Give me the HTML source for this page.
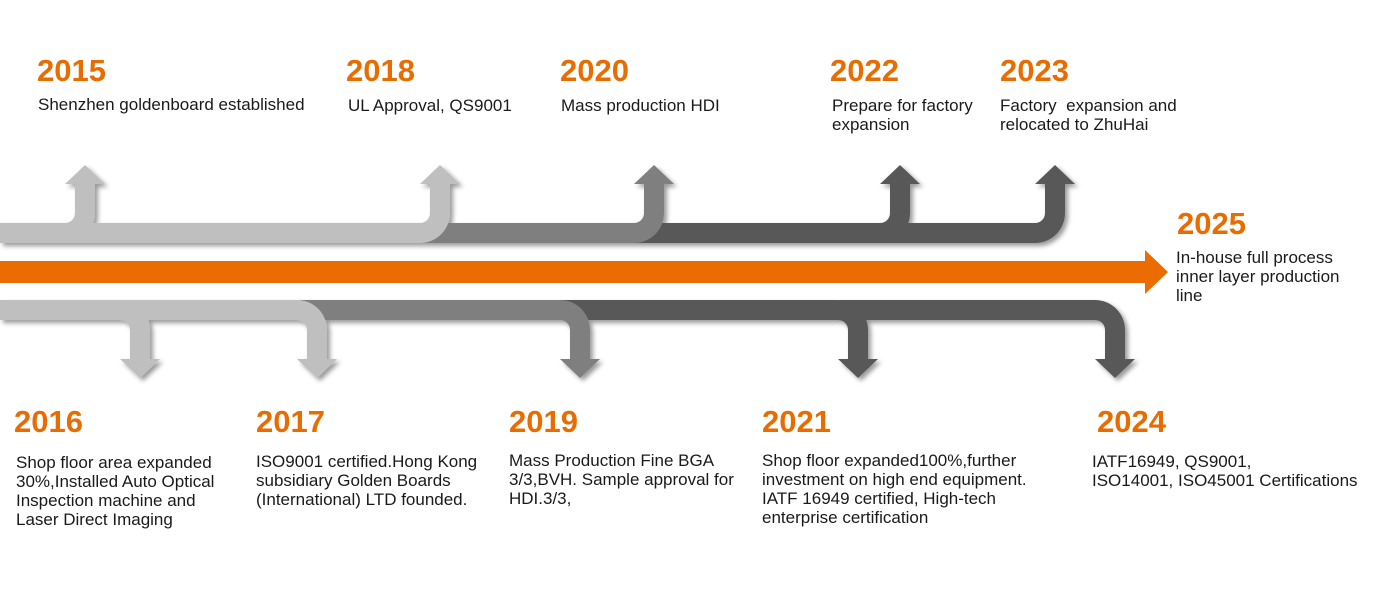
<!DOCTYPE html>
<html><head><meta charset="utf-8"><style>
html,body{margin:0;padding:0;background:#fff;width:1400px;height:600px;overflow:hidden;position:relative;font-family:"Liberation Sans",sans-serif}
.y{position:absolute;color:#e86c00;font-weight:bold;font-size:31px;line-height:32px}
.d{position:absolute;color:#1a1a1a;font-size:17px;line-height:19px;white-space:nowrap}
svg{position:absolute;left:0;top:0}
</style></head><body>
<svg width="1400" height="600">
<defs><filter id="s" x="-20%" y="-20%" width="140%" height="140%"><feDropShadow dx="3" dy="3" stdDeviation="2.5" flood-color="#000" flood-opacity="0.4"/></filter></defs>
<g filter="url(#s)">
<path fill="#595959" d="M880 223 H1035 A10 10 0 0 0 1045 213 V184 H1035 L1055 165 L1075 184 H1065 V213 A30 30 0 0 1 1035 243 H880 Z"/>
<path fill="#595959" d="M630 223 H880 A10 10 0 0 0 890 213 V184 H880 L900 165 L920 184 H910 V213 A30 30 0 0 1 880 243 H630 Z"/>
<path fill="#7f7f7f" d="M420 223 H634 A10 10 0 0 0 644 213 V184 H634 L654 165 L674 184 H664 V213 A30 30 0 0 1 634 243 H420 Z"/>
<path fill="#bfbfbf" d="M60 223 H420 A10 10 0 0 0 430 213 V184 H420 L440 165 L460 184 H450 V213 A30 30 0 0 1 420 243 H60 Z"/>
<path fill="#bfbfbf" d="M0 223 H65 A10 10 0 0 0 75 213 V184 H65 L85 165 L105 184 H95 V213 A30 30 0 0 1 65 243 H0 Z"/>
<path fill="#595959" d="M840 300 H1095 A30 30 0 0 1 1125 330 V359 H1135 L1115 378 L1095 359 H1105 V330 A10 10 0 0 0 1095 320 H840 Z"/>
<path fill="#595959" d="M560 300 H838 A30 30 0 0 1 868 330 V359 H878 L858 378 L838 359 H848 V330 A10 10 0 0 0 838 320 H560 Z"/>
<path fill="#7f7f7f" d="M300 300 H560 A30 30 0 0 1 590 330 V359 H600 L580 378 L560 359 H570 V330 A10 10 0 0 0 560 320 H300 Z"/>
<path fill="#bfbfbf" d="M120 300 H297 A30 30 0 0 1 327 330 V359 H337 L317 378 L297 359 H307 V330 A10 10 0 0 0 297 320 H120 Z"/>
<path fill="#bfbfbf" d="M0 300 H120 A30 30 0 0 1 150 330 V359 H160 L140 378 L120 359 H130 V330 A10 10 0 0 0 120 320 H0 Z"/>
</g>
<path fill="#eb6c00" d="M0 261 H1145 V250 L1168 272 L1145 294 V283 H0 Z"/>
</svg>

<div class="y" style="left:37px;top:55px">2015</div>
<div class="d" style="left:38px;top:95px">Shenzhen goldenboard established</div>
<div class="y" style="left:346px;top:55px">2018</div>
<div class="d" style="left:348px;top:96px">UL Approval, QS9001</div>
<div class="y" style="left:560px;top:55px">2020</div>
<div class="d" style="left:561px;top:96px">Mass production HDI</div>
<div class="y" style="left:830px;top:55px">2022</div>
<div class="d" style="left:832px;top:96px">Prepare for factory<br>expansion</div>
<div class="y" style="left:1000px;top:55px">2023</div>
<div class="d" style="left:1000px;top:96px">Factory&nbsp; expansion and<br>relocated to ZhuHai</div>
<div class="y" style="left:1177px;top:208px">2025</div>
<div class="d" style="left:1176px;top:248px">In-house full process<br>inner layer production<br>line</div>

<div class="y" style="left:14px;top:406px">2016</div>
<div class="d" style="left:16px;top:453px">Shop floor area expanded<br>30%,Installed Auto Optical<br>Inspection machine and<br>Laser Direct Imaging</div>
<div class="y" style="left:256px;top:406px">2017</div>
<div class="d" style="left:256px;top:452px">ISO9001 certified.Hong Kong<br>subsidiary Golden Boards<br>(International) LTD founded.</div>
<div class="y" style="left:509px;top:406px">2019</div>
<div class="d" style="left:509px;top:451px">Mass Production Fine BGA<br>3/3,BVH. Sample approval for<br>HDI.3/3,</div>
<div class="y" style="left:762px;top:406px">2021</div>
<div class="d" style="left:762px;top:451px">Shop floor expanded100%,further<br>investment on high end equipment.<br>IATF 16949 certified, High-tech<br>enterprise certification</div>
<div class="y" style="left:1097px;top:406px">2024</div>
<div class="d" style="left:1092px;top:452px">IATF16949, QS9001,<br>ISO14001, ISO45001 Certifications</div>
</body></html>
